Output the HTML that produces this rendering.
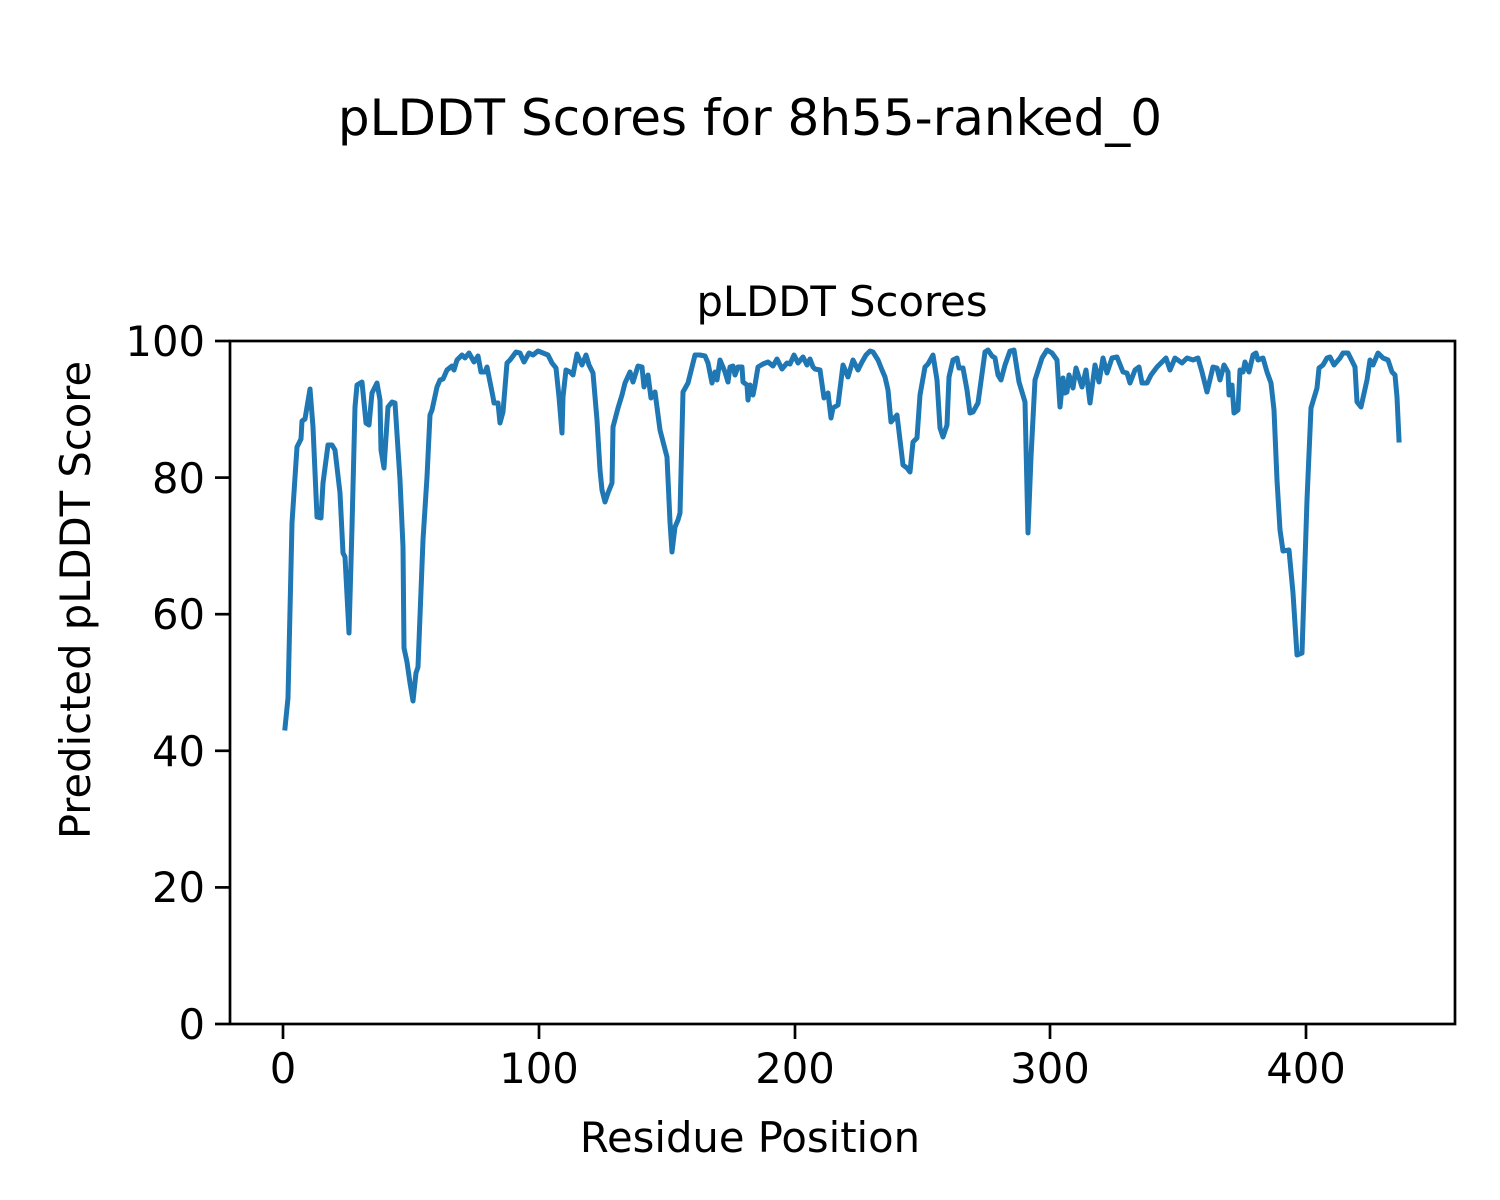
<!DOCTYPE html>
<html><head><meta charset="utf-8"><style>html,body{margin:0;padding:0;background:#fff}svg{display:block}text{font-family:"DejaVu Sans","Liberation Sans",sans-serif;fill:#000}</style></head>
<body>
<svg width="1500" height="1200" viewBox="0 0 1500 1200" xmlns="http://www.w3.org/2000/svg">
<rect width="1500" height="1200" fill="#fff"/>
<text x="750" y="135" font-size="50" text-anchor="middle">pLDDT Scores for 8h55-ranked_0</text>
<text x="842" y="316" font-size="41.7" text-anchor="middle">pLDDT Scores</text>
<polyline fill="none" stroke="#1f77b4" stroke-width="5" stroke-linejoin="round" stroke-linecap="square" points="
285,728 288,698 292,523 297,447 301,439 302,421 305,419 310,389 313,427 317,517 321,518 323,483 328,445 332,445 335,450 340,493 343,553 345,557 349,633 352,527 355,407 357,385 362,382 366,423 369,425 372,393 377,383 380,400 381,450 384,468 388,407 392,402 395,403 400,480 403,547 404,648 407,662 410,683 413,701 416,673 418,667 423,540 427,477 430,415 432,410 437,387 440,380 443,379 447,370 452,366 454,370 457,360 462,355 465,358 469,353 474,362 478,356 481,372 485,372 487,367 493,397 494,403 498,403 500,423 503,412 507,363 510,360 516,352 520,353 524,362 529,353 533,355 538,351 543,353 548,355 552,363 556,368 559,397 562,433 563,397 566,370 570,372 573,375 577,354 582,365 586,355 589,365 593,373 597,420 600,470 602,490 605,502 608,493 612,483 613,427 618,408 622,395 625,383 630,372 633,382 638,366 642,367 644,387 648,375 651,398 655,392 660,430 667,457 670,522 672,552 675,527 678,520 680,513 683,392 688,383 695,355 700,355 705,356 708,363 712,383 715,372 717,380 720,360 725,372 728,382 730,367 733,366 735,375 738,367 742,367 743,382 747,385 748,400 750,385 753,395 755,385 758,367 763,364 768,362 773,366 777,359 782,369 787,363 790,364 794,355 798,363 803,357 807,365 810,359 813,367 815,369 820,370 824,398 828,393 831,418 833,408 838,405 843,365 848,377 853,360 858,370 862,362 866,355 870,351 873,352 878,360 882,370 885,377 888,390 891,422 897,415 903,465 907,468 910,472 913,442 917,438 920,395 925,367 928,364 933,355 937,380 940,428 943,437 947,425 949,377 953,360 957,358 959,368 963,368 967,390 970,413 973,412 978,403 985,352 988,350 992,356 995,358 998,375 1001,380 1005,365 1010,351 1014,350 1019,382 1025,402 1028,533 1031,457 1035,380 1042,358 1047,350 1052,353 1057,360 1060,407 1063,378 1065,393 1067,392 1069,375 1073,388 1076,368 1082,387 1086,370 1090,403 1095,365 1099,382 1103,358 1107,373 1112,358 1117,357 1123,372 1127,373 1130,383 1135,370 1139,367 1142,383 1147,383 1151,375 1157,367 1162,362 1166,358 1170,370 1175,358 1182,363 1187,358 1193,360 1198,358 1202,372 1207,392 1213,367 1217,368 1220,380 1224,365 1228,372 1229,395 1232,385 1234,413 1238,410 1240,370 1243,372 1245,362 1249,372 1253,355 1256,353 1258,360 1263,358 1267,372 1271,383 1274,410 1277,480 1280,530 1283,551 1289,550 1293,593 1297,655 1302,653 1307,500 1311,408 1317,388 1319,368 1323,365 1327,358 1330,357 1334,365 1340,358 1343,353 1348,353 1353,363 1355,367 1357,402 1361,407 1367,380 1370,360 1373,365 1378,353 1383,358 1388,360 1392,372 1395,375 1397,397 1399,440"/>
<rect x="230" y="341" width="1225" height="683" fill="none" stroke="#000" stroke-width="2.7"/>
<g stroke="#000" stroke-width="2.7">
<line x1="215" y1="1024" x2="230" y2="1024"/><line x1="215" y1="887.4" x2="230" y2="887.4"/><line x1="215" y1="750.8" x2="230" y2="750.8"/><line x1="215" y1="614.2" x2="230" y2="614.2"/><line x1="215" y1="477.6" x2="230" y2="477.6"/><line x1="215" y1="341" x2="230" y2="341"/>
<line x1="283" y1="1024" x2="283" y2="1039"/><line x1="539" y1="1024" x2="539" y2="1039"/><line x1="795" y1="1024" x2="795" y2="1039"/><line x1="1050" y1="1024" x2="1050" y2="1039"/><line x1="1306" y1="1024" x2="1306" y2="1039"/>
</g>
<g font-size="41.7" text-anchor="end">
<text x="205" y="1039">0</text><text x="205" y="902">20</text><text x="205" y="766">40</text><text x="205" y="629">60</text><text x="205" y="493">80</text><text x="205" y="356">100</text>
</g>
<g font-size="41.7" text-anchor="middle">
<text x="283" y="1083">0</text><text x="539" y="1083">100</text><text x="795" y="1083">200</text><text x="1050" y="1083">300</text><text x="1306" y="1083">400</text>
<text x="750" y="1152">Residue Position</text>
<text transform="translate(90,600) rotate(-90)">Predicted pLDDT Score</text>
</g>
</svg>
</body></html>
